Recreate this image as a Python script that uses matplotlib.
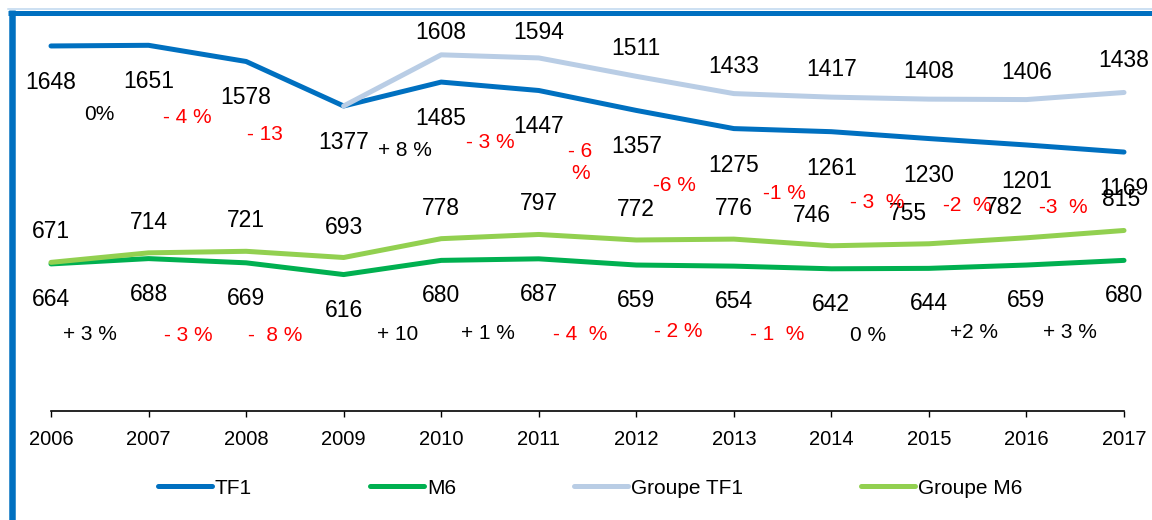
import matplotlib.pyplot as plt
import numpy as np
from matplotlib.lines import Line2D

plt.rcParams['font.family'] = ['Liberation Sans', 'DejaVu Sans']

years = list(range(2006, 2018))
tf1 = [1648, 1651, 1578, 1377, 1485, 1447, 1357, 1275, 1261, 1230, 1201, 1169]
m6 = [664, 688, 669, 616, 680, 687, 659, 654, 642, 644, 659, 680]
groupe_tf1 = [np.nan, np.nan, np.nan, 1377, 1608, 1594, 1511, 1433, 1417, 1408, 1406, 1438]
groupe_m6 = [671, 714, 721, 693, 778, 797, 772, 776, 746, 755, 782, 815]

# year-on-year change labels, as typed in the original
tf1_pct = ["0%", "- 4 %", "- 13", "+ 8 %", "- 3 %", "- 6\n%", "-6 %", "-1 %",
           "- 3  %", "-2  %", "-3  %"]
m6_pct = ["+ 3 %", "- 3 %", "-  8 %", "+ 10", "+ 1 %", "- 4  %", "- 2 %",
          "- 1  %", "0 %", "+2 %", "+ 3 %"]

# hand placed text boxes in the original: nudges in pixels (dx right, dy down)
tf1_pct_nudge = [(0, 10), (-10, 6), (-30, -8), (13, -2), (0, -2), (-7, 15),
                 (-11, 7), (2, 5), (-3, 9), (-10, 5), (-12, 0)]
m6_pct_nudge = [(-10, 6), (-9, 7), (-20, -1), (5, 0), (-2, 6), (-7, 5),
                (-7, -2), (-5, 0), (-12, -1), (-4, -2), (-5, 2)]

BLUE = "#0070C0"
GREEN = "#00B050"
LIGHT_BLUE = "#B9CDE5"
LIGHT_GREEN = "#92D050"
PT = 0.72  # pixels -> points at dpi 100

fig = plt.figure(figsize=(11.52, 5.2), dpi=100)
ax = fig.add_axes([51 / 1152, 109 / 520, 1073 / 1152, 398.7 / 520])

for vals, col, name in [(tf1, BLUE, "TF1"), (m6, GREEN, "M6"),
                        (groupe_tf1, LIGHT_BLUE, "Groupe TF1"),
                        (groupe_m6, LIGHT_GREEN, "Groupe M6")]:
    ax.plot(years, vals, color=col, lw=5 * PT, solid_capstyle="round",
            solid_joinstyle="round", clip_on=False, label=name)

ax.set_xlim(2006, 2017)
ax.set_ylim(0, 1800)
ax.set_xticks(years)
ax.set_yticks([])
for s in ["top", "right", "left"]:
    ax.spines[s].set_visible(False)
ax.spines["bottom"].set_linewidth(1.2)
ax.tick_params(axis="x", direction="out", length=4, width=1, labelsize=14.5, pad=9.5)


def value_labels(vals, dy, dx=None, ddy=None, skip=()):
    "numbers next to each point, offset in pixels"
    for i, (x, v) in enumerate(zip(years, vals)):
        if np.isnan(v) or i in skip:
            continue
        shift = dx.get(i, 0) if dx else 0
        extra = ddy.get(i, 0) if ddy else 0
        ax.annotate(str(int(v)), (x, v), xytext=(shift, dy - extra),
                    textcoords="offset pixels", ha="center", va="baseline",
                    fontsize=16.5, annotation_clip=False)


def pct_labels(vals, labels, dy, nudge):
    "change labels between two years"
    for i, txt in enumerate(labels):
        mid = (vals[i] + vals[i + 1]) / 2
        col = "red" if txt.strip().startswith("-") else "black"
        ndx, ndy = nudge[i]
        ax.annotate(txt, (years[i] + 0.5, mid), xytext=(ndx, dy - ndy),
                    textcoords="offset pixels", ha="center", va="baseline",
                    fontsize=15, color=col, linespacing=1.2, annotation_clip=False)


value_labels(tf1, -43)
value_labels(groupe_tf1, 21, skip=(3,), ddy={4: 5, 5: 2, 11: -4})
value_labels(groupe_m6, 24, dx={8: -19, 9: -21, 10: -23, 11: -3})
value_labels(m6, -42)
pct_labels(tf1, tf1_pct, -64, tf1_pct_nudge)
pct_labels(m6, m6_pct, -73, m6_pct_nudge)

fig.legend(loc="center", bbox_to_anchor=(590 / 1152, 1 - 488 / 520), ncol=4,
           frameon=False, fontsize=15, handlelength=2.6, handletextpad=0.15,
           columnspacing=5.65, borderpad=0)

# blue frame at top and left
fig.add_artist(Line2D([8 / 1152, 1], [1 - 9 / 520] * 2, transform=fig.transFigure,
                      color="#BDD7EE", lw=1.5 * PT))
fig.add_artist(Line2D([8 / 1152, 1], [1 - 12.5 / 520] * 2, transform=fig.transFigure,
                      color=BLUE, lw=5 * PT, solid_capstyle="butt"))
fig.add_artist(Line2D([11.5 / 1152] * 2, [0, 1 - 10 / 520], transform=fig.transFigure,
                      color=BLUE, lw=6.5 * PT, solid_capstyle="butt"))

fig.savefig("out.png", dpi=100, facecolor="white")
